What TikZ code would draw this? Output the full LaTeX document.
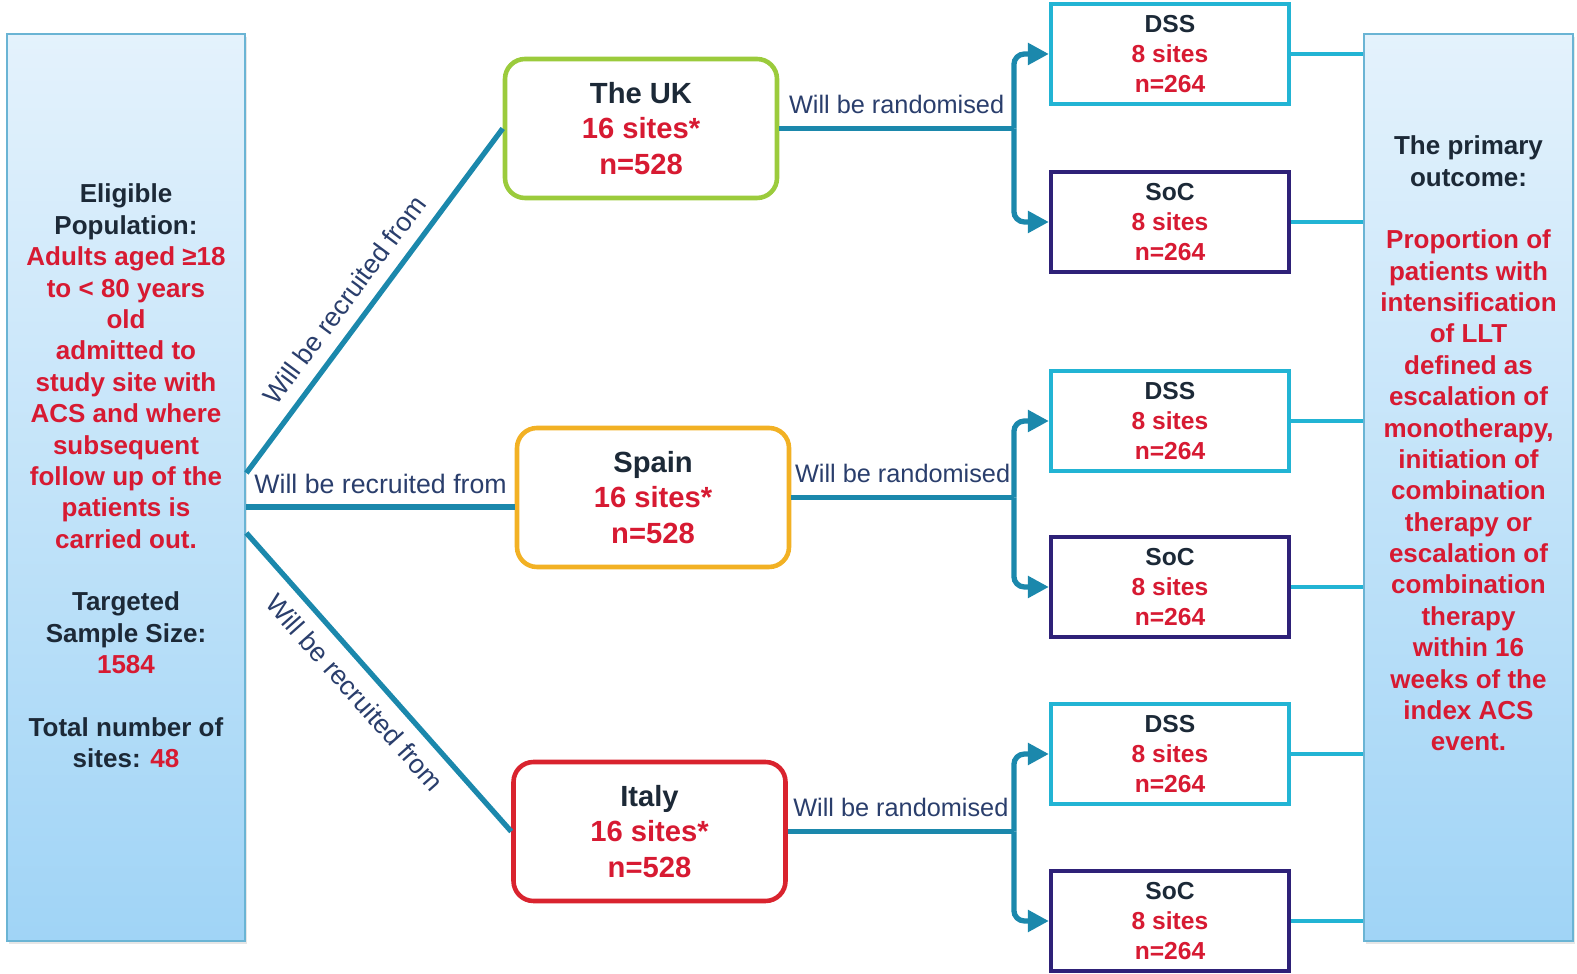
\documentclass[tikz,border=0pt]{standalone}
\usepackage{fontspec}
\setmainfont{Liberation Sans}
\usetikzlibrary{arrows.meta,positioning,shadows}

\definecolor{linkteal}{HTML}{1B88AC}
\definecolor{dsscyan}{HTML}{22B4D4}
\definecolor{socnavy}{HTML}{2E2178}
\definecolor{ukgreen}{HTML}{9BCB3C}
\definecolor{esorange}{HTML}{F2B124}
\definecolor{itred}{HTML}{D9232E}
\definecolor{txtred}{HTML}{D71A32}
\definecolor{txtdark}{HTML}{1C2937}
\definecolor{lblblue}{HTML}{2A3E6C}
\definecolor{paneltop}{HTML}{E4F2FC}
\definecolor{panelbot}{HTML}{A0D4F6}
\definecolor{panelline}{HTML}{6AB4D4}

\newcommand{\rl}[1]{\textcolor{txtred}{#1}}

\begin{document}
\begin{tikzpicture}[
  panel/.style={draw=panelline, line width=0.8pt, top color=paneltop, bottom color=panelbot,
    minimum height=9.07cm, drop shadow={opacity=0.2, shadow xshift=0.6pt, shadow yshift=-0.8pt}},
  paneltext/.style={align=center, text=txtdark, font=\fontsize{7.4}{8.93}\selectfont\bfseries},
  country/.style={draw, rounded corners=0.2cm, line width=1.3pt, fill=white,
    minimum width=2.72cm, minimum height=1.39cm, align=center, text=txtdark,
    font=\fontsize{8.3}{10}\selectfont\bfseries},
  arm/.style={draw, line width=1.2pt, fill=white, minimum width=2.38cm, minimum height=0.98cm,
    align=center, text=txtdark, font=\fontsize{7}{8.5}\selectfont\bfseries},
  link/.style={linkteal, line width=1.5pt},
  fork/.style={link, rounded corners=3pt, -{Triangle[length=6pt,width=6pt]}},
  tie/.style={dsscyan, line width=0.9pt},
  lbl/.style={text=lblblue, font=\fontsize{7.6}{9}\selectfont, inner sep=1pt},
  rlbl/.style={lbl, font=\fontsize{7.2}{9}\selectfont}
]
  \useasboundingbox (0,0) rectangle (15.77,-9.74);

  % Side panels
  \node[panel, minimum width=2.38cm] (pop) at (1.26,-4.875) {};
  \node[panel, minimum width=2.09cm] (outc) at (14.685,-4.875) {};

  \node[paneltext] (poptxt) at (1.26,-4.76) {Eligible\\Population:\\\rl{Adults aged ≥18}\\
    \rl{to < 80 years}\\\rl{old}\\\rl{admitted to}\\\rl{study site with}\\\rl{ACS and where}\\
    \rl{subsequent}\\\rl{follow up of the}\\\rl{patients is}\\\rl{carried out.}\\[8.9pt]
    Targeted\\Sample Size:\\\rl{1584}\\[8.9pt]Total number of\\sites: \rl{48}};
  \node[paneltext] (outctxt) at (14.685,-4.435) {The primary\\outcome:\\[8.9pt]
    \rl{Proportion of}\\\rl{patients with}\\\rl{intensification}\\\rl{of LLT}\\\rl{defined as}\\
    \rl{escalation of}\\\rl{monotherapy,}\\\rl{initiation of}\\\rl{combination}\\\rl{therapy or}\\
    \rl{escalation of}\\\rl{combination}\\\rl{therapy}\\\rl{within 16}\\\rl{weeks of the}\\
    \rl{index ACS}\\\rl{event.}};

  % Countries
  \node[country, draw=ukgreen] (uk) at (6.41,-1.285) {The UK\\\rl{16 sites*}\\\rl{n=528}};
  \node[country, draw=esorange] (spain) at (6.53,-4.975) {Spain\\\rl{16 sites*}\\\rl{n=528}};
  \node[country, draw=itred] (italy) at (6.495,-8.315) {Italy\\\rl{16 sites*}\\\rl{n=528}};

  % Randomised arms
  \node[arm, draw=dsscyan] (dss1) at (11.70,-0.54) {DSS\\\rl{8 sites}\\\rl{n=264}};
  \node[arm, draw=socnavy] (soc1) at (11.70,-2.22) {SoC\\\rl{8 sites}\\\rl{n=264}};
  \node[arm, draw=dsscyan] (dss2) at (11.70,-4.21) {DSS\\\rl{8 sites}\\\rl{n=264}};
  \node[arm, draw=socnavy] (soc2) at (11.70,-5.87) {SoC\\\rl{8 sites}\\\rl{n=264}};
  \node[arm, draw=dsscyan] (dss3) at (11.70,-7.54) {DSS\\\rl{8 sites}\\\rl{n=264}};
  \node[arm, draw=socnavy] (soc3) at (11.70,-9.21) {SoC\\\rl{8 sites}\\\rl{n=264}};

  % Recruitment
  \draw[link] ([yshift=1.45mm]pop.east) -- node[lbl, sloped, above=2.5pt, pos=0.46] {Will be recruited from} (uk.west);
  \draw[link] ([yshift=-1.95mm]pop.east) -- node[lbl, above=2pt] {Will be recruited from} ([yshift=-1.95mm]pop.east -| spain.west);
  \draw[link] ([yshift=-4.55mm]pop.east) -- node[lbl, sloped, below=2.5pt, pos=0.48] {Will be recruited from} (italy.west);

  % Randomisation
  \coordinate (f1) at ([xshift=-3.5mm]uk.east -| dss1.west);
  \coordinate (f2) at ([xshift=-3.5mm]spain.east -| dss2.west);
  \coordinate (f3) at ([xshift=-3.5mm]italy.east -| dss3.west);
  \draw[link] (uk.east) -- node[rlbl, above=2.5pt, pos=0.5] {Will be randomised} (f1);
  \draw[link] (spain.east) -- node[rlbl, above=2.5pt, pos=0.5] {Will be randomised} (f2);
  \draw[link] (italy.east) -- node[rlbl, above=2.5pt, pos=0.5] {Will be randomised} (f3);
  \draw[fork] (f1) |- (dss1.west);
  \draw[fork] (f1) |- (soc1.west);
  \draw[fork] (f2) |- (dss2.west);
  \draw[fork] (f2) |- (soc2.west);
  \draw[fork] (f3) |- (dss3.west);
  \draw[fork] (f3) |- (soc3.west);

  % To the outcome
  \foreach \b in {dss1,soc1,dss2,soc2,dss3,soc3}
    \draw[tie] (\b.east) -- (\b.east -| outc.west);
\end{tikzpicture}
\end{document}
